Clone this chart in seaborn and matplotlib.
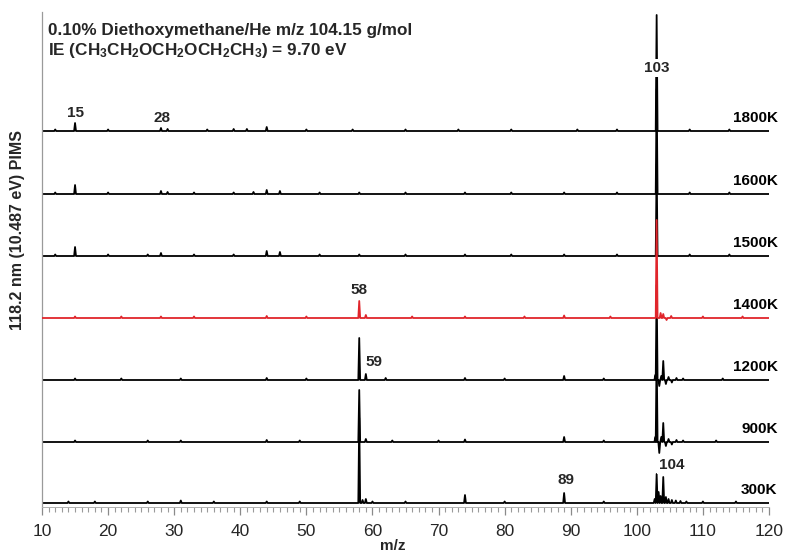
import matplotlib
matplotlib.use("Agg")
import numpy as np
import pandas as pd
import matplotlib.pyplot as plt
import seaborn as sns
from matplotlib.ticker import MultipleLocator
from matplotlib import font_manager

# ---- data -------------------------------------------------------------
temperatures = ["300K", "900K", "1200K", "1400K", "1500K", "1600K", "1800K"]
offsets = [0, 61, 123, 185, 247, 309, 372]          # vertical stacking offsets
trace_colors = ["black", "black", "black", "#e0252b", "black", "black", "black"]

# peak positions (m/z) and signal heights for each temperature
mz_300 = [14, 18, 26, 31, 36, 44, 49, 58, 58.5, 59, 60, 65, 74, 80, 89, 95,
          102.7, 103, 103.3, 103.6, 104, 104.4, 104.8, 105.3, 105.9, 106.6, 107.5, 110, 115]
h_300 = [1.5, 1.5, 1.5, 2.5, 1.5, 1.5, 1.5, 85, 3, 4, 1.5, 1.5, 8, 1.5, 10, 1.5,
         4, 29, 11, 7, 26, 6, 4, 3, 2.5, 2, 1.5, 1.5, 1.5]

mz_900 = [15, 26, 31, 44, 49, 58, 59, 63, 70, 74, 89, 95,
          102.8, 103, 103.4, 103.7, 104, 104.4, 104.8, 105.3, 106, 107, 112]
h_900 = [1.5, 1.5, 1.5, 2, 1.5, 52, 3, 1.5, 1.5, 2.5, 5, 1.5,
         5, 92, -11, 5, 19, -4, 3, -2.5, 2, 1.5, 1.5]

mz_1200 = [15, 22, 31, 44, 50, 58, 59, 62, 74, 80, 89, 95,
           102.8, 103, 103.4, 103.7, 104, 104.4, 104.8, 105.3, 106, 107, 113]
h_1200 = [1.5, 1.5, 1.5, 2, 1.5, 42, 6, 2, 2, 1.5, 4, 1.5,
          5, 95, -6, 4, 19, -4, 3, -2.5, 2, 1.5, 1.5]

mz_1400 = [15, 22, 28, 33, 44, 50, 58, 59, 66, 74, 83, 89, 96,
           103, 103.6, 104, 104.5, 105.2, 110, 116]
h_1400 = [1.5, 1.5, 1.5, 1.5, 2, 1.5, 17, 3, 1.5, 1.5, 1.5, 2.5, 1.5,
          98, 5, 4, -2, 2, 1.5, 1.5]

mz_1500 = [12, 15, 20, 26, 28, 33, 39, 44, 46, 52, 58, 65, 74, 81, 89, 97, 103, 108, 114]
h_1500 = [1.5, 9, 1.5, 1.5, 3, 1.5, 1.5, 5, 4, 1.5, 1.5, 1.5, 1.5, 1.5, 1.5, 1.5, 92, 1.5, 1.5]

mz_1600 = [12, 15, 20, 28, 29, 33, 39, 42, 44, 46, 52, 58, 65, 74, 81, 89, 97, 103, 108, 114]
h_1600 = [1.5, 9, 1.5, 3, 2, 1.5, 1.5, 2, 4, 3, 1.5, 1.5, 1.5, 1.5, 1.5, 1.5, 1.5, 105, 1.5, 1.5]

mz_1800 = [12, 15, 20, 28, 29, 35, 39, 41, 44, 50, 57, 65, 73, 81, 91, 97, 103, 108, 114]
h_1800 = [1.5, 8, 1.5, 3, 2, 1.5, 2, 2, 4, 1.5, 1.5, 1.5, 1.5, 1.5, 1.5, 1.5, 116, 1.5, 1.5]

peak_lists = [(mz_300, h_300), (mz_900, h_900), (mz_1200, h_1200), (mz_1400, h_1400),
              (mz_1500, h_1500), (mz_1600, h_1600), (mz_1800, h_1800)]

# peak annotations: text, m/z, height above the 300K baseline
peak_labels = ["103", "15", "28", "58", "59", "89", "104"]
peak_label_x = [103.0, 15.0, 28.2, 58.0, 60.2, 89.3, 105.3]
peak_label_y = [435, 390, 385, 213, 141, 23, 38]

# ---- fonts ------------------------------------------------------------
sns.set_theme(style="white")
available = {f.name for f in font_manager.fontManager.ttflist}
base_font = "Liberation Sans" if "Liberation Sans" in available else "DejaVu Sans"
narrow_font = "Liberation Sans Narrow" if "Liberation Sans Narrow" in available else base_font
plt.rcParams["font.family"] = [base_font, "DejaVu Sans"]
plt.rcParams["mathtext.fontset"] = "custom"
plt.rcParams["mathtext.rm"] = f"{base_font}:bold"
plt.rcParams["mathtext.bf"] = f"{base_font}:bold"
plt.rcParams["mathtext.default"] = "rm"


def stick_trace(mz, heights, offset, lo=10.0, hi=120.0, w=0.14):
    xs, ys = [lo], [offset]
    for m, v in sorted(zip(mz, heights)):
        xs += [m - w, m, m + w]
        ys += [offset, offset + v, offset]
    xs.append(hi)
    ys.append(offset)
    return pd.DataFrame({"mz": xs, "signal": ys})


# ---- figure -----------------------------------------------------------
fig = plt.figure(figsize=(7.86, 5.53), dpi=100)
ax = fig.add_axes([42 / 786, 1 - 507 / 553, 727 / 786, 495 / 553])

for temp, off, col, (mz, h) in zip(temperatures, offsets, trace_colors, peak_lists):
    df = stick_trace(mz, h, off)
    z = 3 if col != "black" else 2
    sns.lineplot(data=df, x="mz", y="signal", sort=False, estimator=None,
                 color=col, lw=1.3, ax=ax, zorder=z)
    ax.text(121.3, off + 13, temp, ha="right", va="center", fontsize=11,
            fontweight="bold", color="black", clip_on=False, zorder=6)

for txt, lx, ly in zip(peak_labels, peak_label_x, peak_label_y):
    bbox = dict(facecolor="white", edgecolor="none", pad=1.5) if txt in ("103", "104") else None
    ax.text(lx, ly, txt, ha="center", va="center", fontsize=11, fontweight="bold",
            bbox=bbox, zorder=6)

ax.set_xlim(10, 120)
ax.set_ylim(-4, 491)
ax.xaxis.set_major_locator(MultipleLocator(10))
ax.xaxis.set_minor_locator(MultipleLocator(1))
ax.set_yticks([])
ax.tick_params(axis="x", which="major", direction="out", length=5.5, width=0.9,
               color="#8a8a8a", pad=7, labelsize=12.5, bottom=True)
ax.tick_params(axis="x", which="minor", direction="out", length=3.5, width=0.8,
               color="#9a9a9a", bottom=True)
for lab in ax.get_xticklabels():
    lab.set_family([narrow_font, "DejaVu Sans"])
ax.set_xlabel("")
ax.set_ylabel("")

for side in ("top", "right"):
    ax.spines[side].set_visible(False)
ax.spines["left"].set_color("#9a9a9a")
ax.spines["left"].set_linewidth(0.9)
ax.spines["bottom"].set_color("#b0b0b0")
ax.spines["bottom"].set_linewidth(0.7)

fig.text(393 / 786, 1 - 546 / 553, "m/z", ha="center", va="center",
         fontsize=11, fontweight="bold")
fig.text(18 / 786, 1 - 230 / 553, "118.2 nm (10.487 eV) PIMS", rotation=90,
         ha="center", va="center", fontsize=11.5, fontweight="bold")
fig.text(48 / 786, 1 - 30 / 553, "0.10% Diethoxymethane/He m/z 104.15 g/mol",
         ha="left", va="center", fontsize=12.3, fontweight="bold")
fig.text(48 / 786, 1 - 50 / 553,
         "IE (CH$_3$CH$_2$OCH$_2$OCH$_2$CH$_3$) = 9.70 eV",
         ha="left", va="center", fontsize=12.3, fontweight="bold")

fig.savefig("out.png", dpi=100)
